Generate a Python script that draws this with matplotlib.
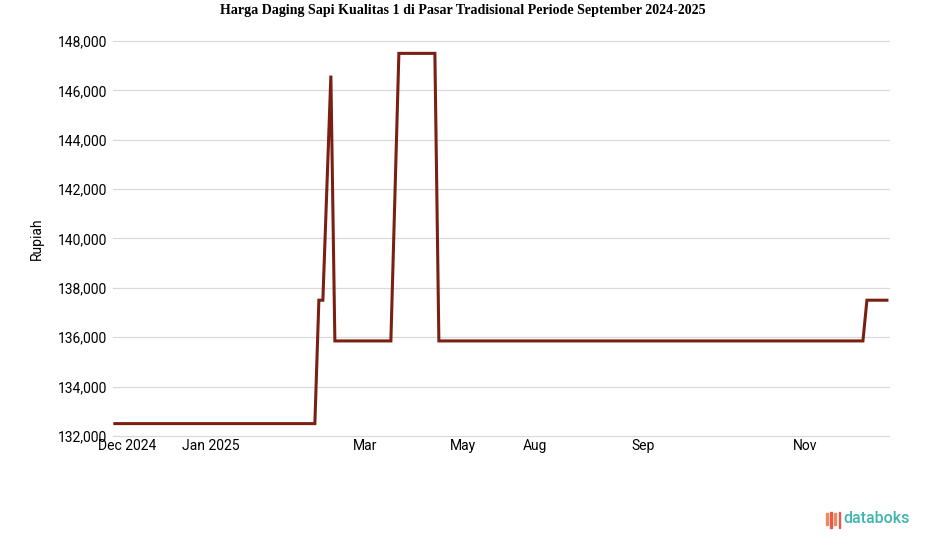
import matplotlib.pyplot as plt
from matplotlib.patches import Rectangle

# observation index and price (Rupiah) at each breakpoint of the series
obs = [0, 50, 51, 52, 54, 55, 69, 71, 80, 81, 187, 188, 193]
harga = [132500, 132500, 137500, 137500, 146600, 135850, 135850,
         147500, 147500, 135850, 135850, 137500, 137500]

tick_pos = [3, 24, 62.5, 87, 105, 132, 172.5]
tick_labels = ['Dec 2024', 'Jan 2025', 'Mar', 'May', 'Aug', 'Sep', 'Nov']
yticks = list(range(132000, 148001, 2000))


def main():
    fig = plt.figure(figsize=(9.25, 5.47), dpi=100)
    ax = fig.add_axes([0.122, 0.203, 0.839, 0.722])

    ax.plot(obs, harga, color='#7a2012', lw=2.2, solid_joinstyle='miter', zorder=3)

    ax.set_xlim(-0.5, 193.5)
    ax.set_ylim(132000, 148000)
    ax.set_yticks(yticks)
    ax.set_yticklabels([f'{v:,}' for v in yticks], family='Roboto', fontsize=10)
    ax.set_xticks(tick_pos)
    ax.set_xticklabels(tick_labels, family='Roboto', fontsize=10)
    ax.tick_params(length=0, pad=4)
    ax.tick_params(axis='x', pad=2)
    ax.grid(axis='y', color='#d9d9d9', lw=0.9)
    for gl in ax.get_ygridlines():
        gl.set_clip_on(False)
    ax.set_axisbelow(True)
    for s in ax.spines.values():
        s.set_visible(False)

    ax.set_ylabel('Rupiah', family='Roboto', fontsize=10, labelpad=10)

    fig.text(0.5, 0.981, 'Harga Daging Sapi Kualitas 1 di Pasar Tradisional Periode September 2024-2025',
             ha='center', va='center', family='Liberation Serif', weight='bold', fontsize=10.1)

    # databoks logo
    bars = [(0.893, 0.040, 0.022, '#f08a5d'), (0.8975, 0.034, 0.030, '#e8584c'),
            (0.902, 0.040, 0.022, '#f08a5d'), (0.9065, 0.034, 0.030, '#e8584c')]
    for x, y, h, c in bars:
        fig.patches.append(Rectangle((x, y), 0.0016, h, transform=fig.transFigure,
                                     color=c, zorder=5))
    fig.text(0.912, 0.052, 'databoks', ha='left', va='center', family='Roboto',
             fontsize=11.5, color='#3fb5b0', weight='medium')

    fig.savefig('out.png', dpi=100)


if __name__ == '__main__':
    main()
